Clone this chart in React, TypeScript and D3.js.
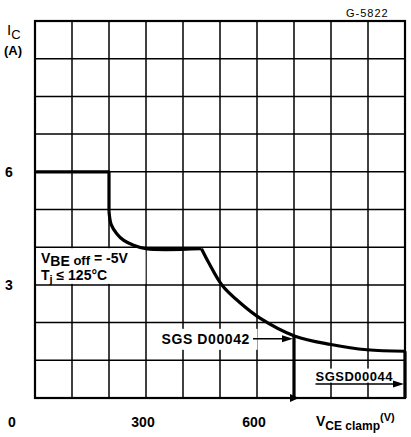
import React from "react";
import * as d3 from "d3";

const width = 411;
const height = 437;
const margin = { top: 21, right: 6, bottom: 39, left: 35 };

// grid: 100 V per column, 1 A per row
const xTicks = [0, 300, 600];
const yTicks = [3, 6];

// safe operating boundary, V_CE clamp (V) vs I_C (A)
const upperStep = [
  [0, 6],
  [200, 6],
  [200, 4.95],
];
const kneeV = [200, 206, 221, 240, 265, 300, 450];
const kneeI = [4.95, 4.6, 4.36, 4.18, 4.06, 3.96, 3.96];
const tailV = [450, 470, 505, 555, 608, 703, 800, 897, 1000];
const tailI = [3.96, 3.58, 3.0, 2.52, 2.12, 1.64, 1.42, 1.28, 1.24];
const devices = [
  { name: "SGS D00042", v: 700, i: 1.64, at: 1.57 },
  { name: "SGSD00044", v: 1000, i: 1.24, at: 0.37 },
];

export default function App() {
  const x = d3.scaleLinear().domain([0, 1000]).range([margin.left, width - margin.right]);
  const y = d3.scaleLinear().domain([0, 10]).range([height - margin.bottom, margin.top]);
  const line = d3
    .line<number[]>()
    .x((d) => x(d[0]))
    .y((d) => y(d[1]));
  const curve = d3
    .line<number[]>()
    .x((d) => x(d[0]))
    .y((d) => y(d[1]))
    .curve(d3.curveCatmullRom.alpha(0.5));

  const knee = kneeV.map((v, i) => [v, kneeI[i]]);
  const tail = tailV.map((v, i) => [v, tailI[i]]);
  const cols = d3.range(0, 1001, 100);
  const rows = d3.range(0, 11, 1);
  const font = "'Liberation Sans', Arial, sans-serif";

  return (
    <svg width={width} height={height} style={{ position: "absolute", left: 0, top: 0 }}>
      <rect width={width} height={height} fill="#fff" />
      {/* grid */}
      <g stroke="#000" strokeWidth={1.5}>
        {cols.map((c) => (
          <line key={"c" + c} x1={x(c)} x2={x(c)} y1={y(0)} y2={y(10)} />
        ))}
        {rows.map((r) => (
          <line key={"r" + r} x1={x(0)} x2={x(1000)} y1={y(r)} y2={y(r)} />
        ))}
      </g>
      <rect
        x={x(0)}
        y={y(10)}
        width={x(1000) - x(0)}
        height={y(0) - y(10)}
        fill="none"
        stroke="#000"
        strokeWidth={2.2}
      />
      {/* note box */}
      <rect x={x(0) + 1.5} y={y(4) + 1} width={x(300) - x(0) - 2} height={y(3) - y(4) - 2} fill="#fff" />
      <text x={x(0) + 6} y={y(3.58)} fontFamily={font} fontSize={14} fontWeight="bold">
        V<tspan dy={3}>BE</tspan>
        <tspan dy={-1} fontSize={13}> off</tspan>
        <tspan dy={-2}> = -5V</tspan>
      </text>
      <text x={x(0) + 6} y={y(3.12)} fontFamily={font} fontSize={14} fontWeight="bold">
        T<tspan dy={3} fontSize={11}>j</tspan>
        <tspan dy={-3}> ≤ 125°C</tspan>
      </text>
      {/* boundary */}
      <g fill="none" stroke="#000" strokeWidth={3.2} strokeLinejoin="round">
        <path d={line(upperStep) ?? ""} />
        <path d={curve(knee) ?? ""} />
        <path d={curve(tail) ?? ""} />
        {devices.map((d) => (
          <line key={d.name} x1={x(d.v)} x2={x(d.v)} y1={y(d.i)} y2={y(0)} />
        ))}
      </g>
      {/* device labels */}
      <rect x={x(350)} y={y(devices[0].at) - 10} width={93} height={21} fill="#fff" />
      <text x={x(600) - 7} y={y(devices[0].at) + 5} fontFamily={font} fontSize={14} fontWeight="bold" textAnchor="end" letterSpacing={0.6}>
        {devices[0].name}
      </text>
      <line x1={x(600) - 4} x2={x(700) - 8} y1={y(devices[0].at)} y2={y(devices[0].at)} stroke="#000" strokeWidth={1.5} />
      <path d={`M${x(700) - 1},${y(devices[0].at)} l-11,-3.5 l0,7 z`} fill="#000" />
      <rect x={x(750) - 4} y={y(0.78)} width={86} height={14} fill="#fff" />
      <text x={x(750) + 3} y={y(devices[1].at) - 3} fontFamily={font} fontSize={13} fontWeight="bold" letterSpacing={0.5}>
        {devices[1].name}
      </text>
      <line x1={x(750) + 3} x2={x(1000) - 8} y1={y(devices[1].at)} y2={y(devices[1].at)} stroke="#000" strokeWidth={1.5} />
      <path d={`M${x(1000) - 1},${y(devices[1].at)} l-11,-3.5 l0,7 z`} fill="#000" />
      <path d={`M${x(700) + 5},${y(0)} l-9,-4 l0,8 z`} fill="#000" />
      {/* axis labels */}
      {yTicks.map((t) => (
        <text key={t} x={5} y={y(t) + 5} fontFamily={font} fontSize={14} fontWeight="bold">
          {t}
        </text>
      ))}
      {xTicks.map((t) => (
        <text key={t} x={t === 0 ? 12 : x(t) - 3} y={427} fontFamily={font} fontSize={14} fontWeight="bold" textAnchor="middle">
          {t}
        </text>
      ))}
      <text x={7} y={35} fontFamily={font} fontSize={15}>
        I<tspan dy={4} fontSize={13}>C</tspan>
      </text>
      <text x={4} y={55} fontFamily={font} fontSize={13} fontWeight="bold">
        (A)
      </text>
      <text x={316} y={426} fontFamily={font} fontSize={14} fontWeight="bold">
        V<tspan dy={4} fontSize={12}>CE clamp</tspan>
        <tspan dy={-9} fontSize={11}>(V)</tspan>
      </text>
      <text x={346} y={17} fontFamily={font} fontSize={11} letterSpacing={1}>
        G-5822
      </text>
    </svg>
  );
}
